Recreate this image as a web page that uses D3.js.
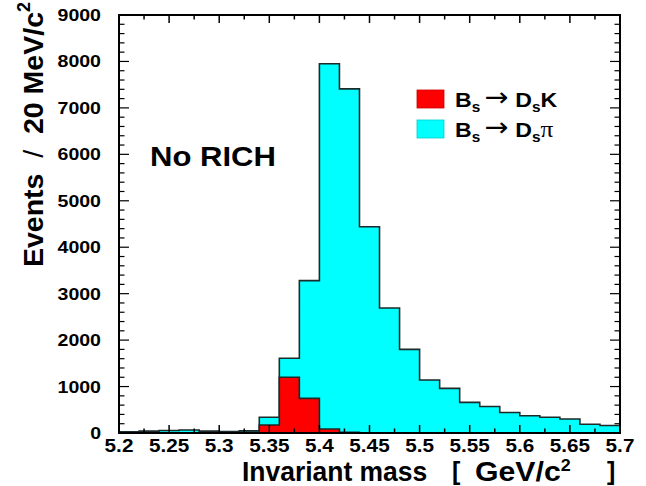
<!DOCTYPE html>
<html>
<head>
<meta charset="utf-8">
<script src="https://cdn.jsdelivr.net/npm/d3@7"></script>
<style>
  body { margin: 0; background: #fff; }
  text { font-family: "Liberation Sans", Arial, Helvetica, sans-serif; font-weight: bold; white-space: pre; }
</style>
</head>
<body>
<svg id="chart" width="646" height="486"></svg>
<script>
// bin edges, 20 MeV wide
var binEdges = [5.20, 5.22, 5.24, 5.26, 5.28, 5.30, 5.32, 5.34, 5.36, 5.38, 5.40, 5.42, 5.44,
                5.46, 5.48, 5.50, 5.52, 5.54, 5.56, 5.58, 5.60, 5.62, 5.64, 5.66, 5.68, 5.70];

// Bs -> Ds pi (cyan)
var dsPi = [25, 40, 55, 65, 40, 30, 45, 340, 1610, 3280, 7950, 7410, 4440,
            2690, 1800, 1140, 960, 660, 570, 440, 370, 340, 300, 190, 160];

// Bs -> Ds K (red)
var dsK = [0, 0, 0, 0, 0, 5, 15, 172, 1200, 746, 86, 15, 5,
           0, 0, 0, 0, 0, 0, 0, 0, 0, 0, 0, 0];

var xTicks = [5.2, 5.25, 5.3, 5.35, 5.4, 5.45, 5.5, 5.55, 5.6, 5.65, 5.7];
var xTickLabels = ["5.2", "5.25", "5.3", "5.35", "5.4", "5.45", "5.5", "5.55", "5.6", "5.65", "5.7"];
var yTicks = [0, 1000, 2000, 3000, 4000, 5000, 6000, 7000, 8000, 9000];

var svg = d3.select("#chart");
var pLeft = 119, pRight = 620, pTop = 15, pBottom = 433;

var x = d3.scaleLinear().domain([5.2, 5.7]).range([pLeft, pRight]);
var y = d3.scaleLinear().domain([0, 9000]).range([pBottom, pTop]);

function histPoints(vals) {
  var pts = [[binEdges[0], 0]];
  for (var i = 0; i < vals.length; i++) {
    pts.push([binEdges[i], vals[i]]);
    pts.push([binEdges[i + 1], vals[i]]);
  }
  pts.push([binEdges[vals.length], 0]);
  return pts;
}

var line = d3.line().x(function(d) { return x(d[0]); }).y(function(d) { return y(d[1]); });

function drawHist(vals, fill) {
  var pts = histPoints(vals);
  svg.append("path")
    .attr("d", line(pts) + "Z")
    .attr("fill", fill)
    .attr("stroke", "none");
  svg.append("path")
    .attr("d", line(pts))
    .attr("fill", "none")
    .attr("stroke", "#1c2a2a")
    .attr("stroke-width", 1.6);
}

drawHist(dsPi, "#00ffff");
drawHist(dsK, "#ff0000");

// frame
svg.append("rect")
  .attr("x", pLeft).attr("y", pTop)
  .attr("width", pRight - pLeft).attr("height", pBottom - pTop)
  .attr("fill", "none").attr("stroke", "#000").attr("stroke-width", 2);

// ticks on all sides, pointing inward
var xMinor = d3.range(0, 21).map(function(i) { return 5.2 + i * 0.025; });
xMinor.forEach(function(v, i) {
  var len = (i % 2 == 0) ? 8 : 4.5;
  svg.append("line").attr("x1", x(v)).attr("x2", x(v)).attr("y1", pBottom).attr("y2", pBottom - len)
    .attr("stroke", "#000").attr("stroke-width", 1.5);
  svg.append("line").attr("x1", x(v)).attr("x2", x(v)).attr("y1", pTop).attr("y2", pTop + len)
    .attr("stroke", "#000").attr("stroke-width", 1.5);
});

var yMinor = d3.range(0, 46).map(function(i) { return i * 200; });
yMinor.forEach(function(v, i) {
  var len = (i % 5 == 0) ? 10 : 5.5;
  svg.append("line").attr("x1", pLeft).attr("x2", pLeft + len).attr("y1", y(v)).attr("y2", y(v))
    .attr("stroke", "#000").attr("stroke-width", 1.2);
  svg.append("line").attr("x1", pRight).attr("x2", pRight - len).attr("y1", y(v)).attr("y2", y(v))
    .attr("stroke", "#000").attr("stroke-width", 1.2);
});

// text with a horizontal stretch, the original lettering is wider than Arial
function addText(px, py, size, anchor, sx, rot) {
  var tr = "translate(" + px + "," + py + ") scale(" + sx + ",1)" + (rot ? " rotate(" + rot + ")" : "");
  return svg.append("text")
    .attr("transform", tr)
    .attr("font-size", size)
    .attr("text-anchor", anchor);
}

// y tick labels
yTicks.forEach(function(v) {
  addText(101, y(v) + 6, 17, "end", 1.15).text(v);
});

// x tick labels
xTicks.forEach(function(v, i) {
  addText(x(v), 452, 18.5, "middle", 1.12).text(xTickLabels[i]);
});

// x axis title, pieces placed like the original
addText(242, 481, 27, "start", 0.98).text("Invariant mass");
addText(452, 480, 25, "start", 1).attr("font-weight", "normal").text("[");
var gev = addText(475, 481, 27, "start", 1.12);
gev.append("tspan").text("GeV/c");
gev.append("tspan").attr("font-size", 16).attr("dy", -10).text("2");
addText(607, 480, 25, "start", 1).attr("font-weight", "normal").text("]");

// y axis title
var yt = addText(43, 2, 28.5, "end", 1, -90);
yt.append("tspan").text("Events  ");
yt.append("tspan").attr("font-weight", "normal").text("/");
yt.append("tspan").text("  20 MeV/c");
yt.append("tspan").attr("font-size", 18).attr("dy", -13).text("2");

// label
addText(150, 166, 27, "start", 1.15).text("No RICH");

// legend
var legend = [
  { color: "#ff0000", y: 90, tail: "K" },
  { color: "#00ffff", y: 120, tail: "\u03c0" }
];
legend.forEach(function(d) {
  svg.append("rect").attr("x", 417).attr("y", d.y).attr("width", 27).attr("height", 18)
    .attr("fill", d.color).attr("stroke", d3.color(d.color).darker(0.6)).attr("stroke-width", 0.8);
  var t = addText(455, d.y + 17, 21, "start", 1.1);
  t.append("tspan").text("B");
  t.append("tspan").attr("font-size", 14).attr("dy", 5).text("s");
  t.append("tspan").attr("dy", -6).attr("dx", 4).attr("font-weight", "normal")
    .attr("font-family", "DejaVu Sans").attr("font-size", 26).text("\u2192");
  t.append("tspan").attr("dy", 1).attr("dx", 6).text("D");
  t.append("tspan").attr("font-size", 14).attr("dy", 5).text("s");
  if (d.tail == "K") {
    t.append("tspan").attr("dy", -5).text("K");
  } else {
    t.append("tspan").attr("dy", -5).attr("font-weight", "normal")
      .attr("font-family", "Liberation Serif").attr("font-size", 23).text("\u03c0");
  }
});
</script>
</body>
</html>
